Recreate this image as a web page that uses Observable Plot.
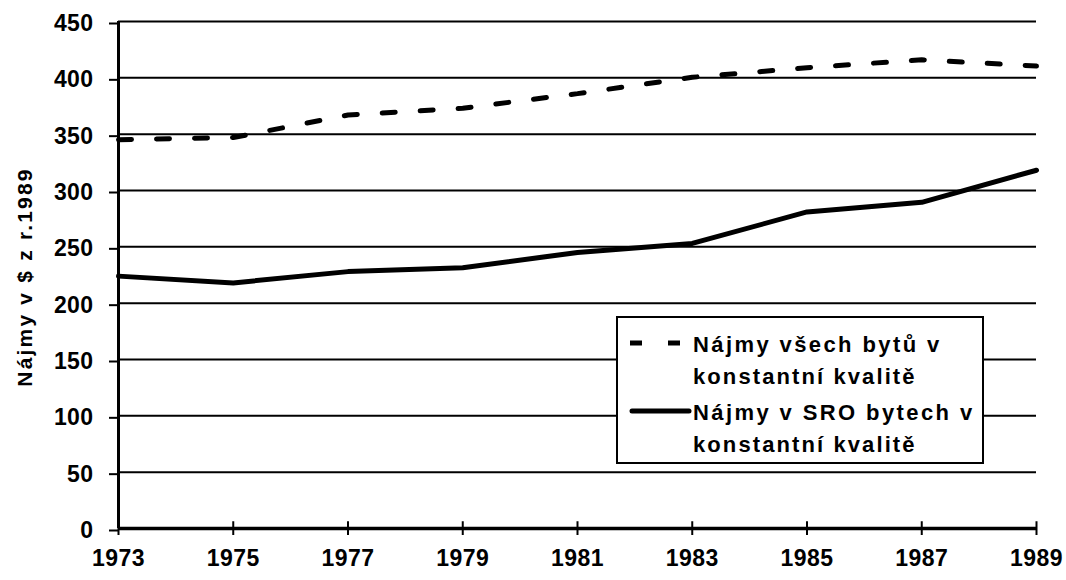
<!DOCTYPE html>
<html>
<head>
<meta charset="utf-8">
<script src="https://cdn.jsdelivr.net/npm/d3@7"></script>
<script src="https://cdn.jsdelivr.net/npm/@observablehq/plot@0.6"></script>
<style>
  body { margin: 0; background: #fff; }
  #wrap { position: relative; width: 1066px; height: 580px; }
  #legend { position: absolute; left: 0; top: 0; }
</style>
</head>
<body>
<div id="wrap"></div>
<script>
const years = [1973, 1975, 1977, 1979, 1981, 1983, 1985, 1987, 1989];
const allRents = [345, 347, 367, 373, 386, 400.5, 409, 416, 410.5];
const sroRents = [224, 218, 228, 231.5, 245, 253, 281, 289.5, 318];
const seriesNames = ["Nájmy všech bytů v konstantní kvalitě", "Nájmy v SRO bytech v konstantní kvalitě"];
const legendLines = [["Nájmy všech bytů v", "konstantní kvalitě"], ["Nájmy v SRO bytech v", "konstantní kvalitě"]];
const yTicks = [0, 50, 100, 150, 200, 250, 300, 350, 400, 450];
const gridTicks = [50, 100, 150, 200, 250, 300, 350, 400, 450];
const yLabel = "Nájmy v $ z r.1989";

const allData = years.map((y, i) => ({year: y, value: allRents[i]}));
const sroData = years.map((y, i) => ({year: y, value: sroRents[i]}));

const font = "'Liberation Sans', Arial, sans-serif";

const chart = Plot.plot({
  width: 1066,
  height: 580,
  marginLeft: 118,
  marginRight: 30,
  marginTop: 21,
  marginBottom: 52,
  style: {fontFamily: font, fontSize: "23px", fontWeight: "bold", color: "#000", background: "#fff", overflow: "visible", letterSpacing: "0.4px"},
  x: {domain: [1973, 1989]},
  y: {domain: [0, 450]},
  marks: [
    Plot.gridY(gridTicks, {stroke: "#000", strokeOpacity: 1, strokeWidth: 2}),
    Plot.axisY(yTicks, {tickSize: 9, tickPadding: 16, dy: 2, tickFormat: d => String(d), stroke: "#000", strokeWidth: 2, label: null}),
    Plot.axisX(years, {tickSize: 7, tickPadding: 14, tickFormat: d => String(d), stroke: "#000", strokeWidth: 2, label: null}),
    Plot.ruleX(years, {x: d => d, y1: 0, y2: 6, stroke: "#000", strokeWidth: 2}),
    Plot.ruleX([1973], {stroke: "#000", strokeWidth: 3}),
    Plot.ruleY([0], {stroke: "#000", strokeWidth: 3.5}),
    Plot.line(allData, {x: "year", y: "value", stroke: "#000", strokeWidth: 5, strokeDasharray: "13,25", strokeLinejoin: "miter"}),
    Plot.line(sroData, {x: "year", y: "value", stroke: "#000", strokeWidth: 5, strokeLinejoin: "round", strokeLinecap: "round"}),
    Plot.text([yLabel], {frameAnchor: "left", rotate: -90, dx: -93, dy: 2, text: d => d, fontSize: 21, fontWeight: "bold", fill: "#000", textAnchor: "middle", lineAnchor: "middle"})
  ]
});

const wrap = document.getElementById("wrap");
wrap.appendChild(chart);
// letter spacing of the rotated axis title
chart.querySelectorAll("text").forEach(t => { if (t.textContent === yLabel) t.style.letterSpacing = "2.2px"; });

// legend overlay
const ns = "http://www.w3.org/2000/svg";
const lg = document.createElementNS(ns, "svg");
lg.setAttribute("id", "legend");
lg.setAttribute("width", 1066);
lg.setAttribute("height", 580);
lg.style.fontFamily = font;
lg.style.fontWeight = "bold";
lg.style.fontSize = "22px";
lg.innerHTML = `
  <rect x="617" y="317" width="366" height="146" fill="#fff" stroke="#000" stroke-width="2"/>
  <line x1="630" x2="680" y1="343" y2="343" stroke="#000" stroke-width="5" stroke-dasharray="12,26"/>
  <line x1="632" x2="689" y1="411" y2="411" stroke="#000" stroke-width="5" stroke-linecap="round"/>
  <text x="693" y="352" style="letter-spacing:2.4px">${legendLines[0][0]}</text>
  <text x="693" y="384" style="letter-spacing:2.1px">${legendLines[0][1]}</text>
  <text x="693" y="420" style="letter-spacing:2.4px">${legendLines[1][0]}</text>
  <text x="693" y="452" style="letter-spacing:2.1px">${legendLines[1][1]}</text>
`;
wrap.appendChild(lg);
</script>
</body>
</html>
